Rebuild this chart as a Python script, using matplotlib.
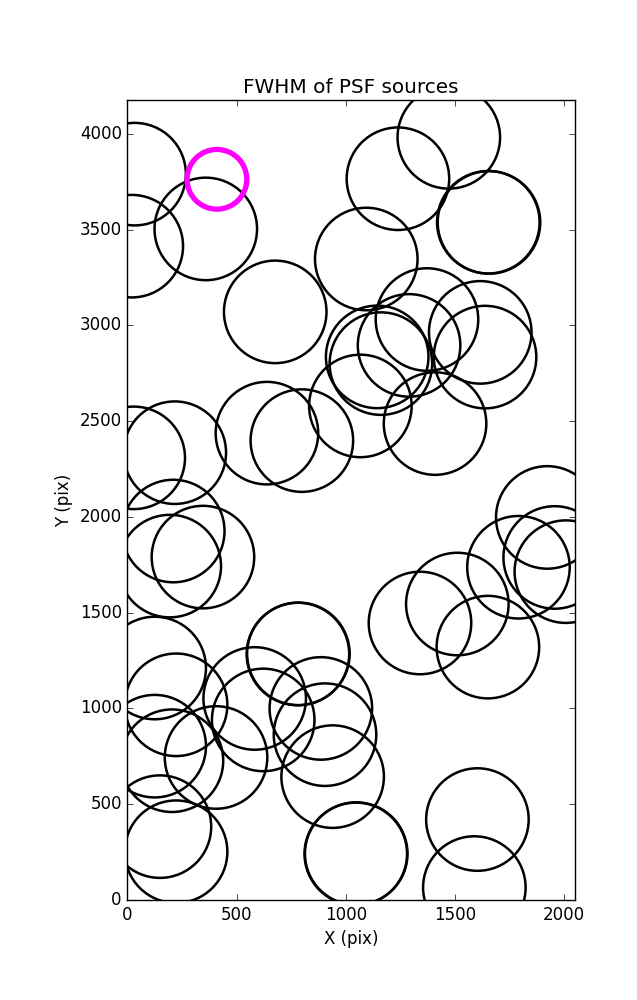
import numpy as np
import matplotlib
matplotlib.use('Agg')
import matplotlib.pyplot as plt

plt.style.use('classic')

# source positions (pix)
x = [33, 20, 359, 677, 1472, 1239, 1653, 1094, 1372, 1616, 1638, 1290,
     1144, 1161, 1067, 1409, 639, 799, 29, 217, 210, 194, 346, 1923,
     1957, 2008, 1791, 1511, 1340, 1651, 781, 125, 223, 125, 204, 406,
     583, 622, 886, 905, 940, 1046, 149, 223, 1603, 1589,
     1656, 783, 1048]
y = [3789, 3413, 3503, 3070, 3981, 3765, 3538, 3346, 3030, 2963, 2834, 2895,
     2835, 2800, 2579, 2487, 2437, 2398, 2308, 2335, 1926, 1743, 1790, 1997,
     1788, 1714, 1737, 1545, 1446, 1320, 1284, 1211, 1019, 803, 727, 744,
     1052, 940, 1000, 863, 644, 241, 383, 252, 420, 65,
     3537, 1285, 242]

# highlighted source
xh = [410]
yh = [3762]

fig = plt.figure(figsize=(6.37, 10.0), dpi=100, facecolor='white')
ax = fig.add_subplot(111)
fig.subplots_adjust(left=0.2, right=0.902, bottom=0.1, top=0.9)

ax.scatter(x, y, s=5450, facecolors='none', edgecolors='k', linewidths=1.8)
ax.scatter(xh, yh, s=1850, facecolors='none', edgecolors='magenta', linewidths=3.8)

ax.set_xlim(0, 2048)
ax.set_ylim(0, 4176)
ax.set_xticks([0, 500, 1000, 1500, 2000])
ax.set_yticks([0, 500, 1000, 1500, 2000, 2500, 3000, 3500, 4000])
ax.set_xlabel("X (pix)")
ax.set_ylabel("Y (pix)")
ax.set_title("FWHM of PSF sources")

fig.savefig('out.png', dpi=100, facecolor='white')
